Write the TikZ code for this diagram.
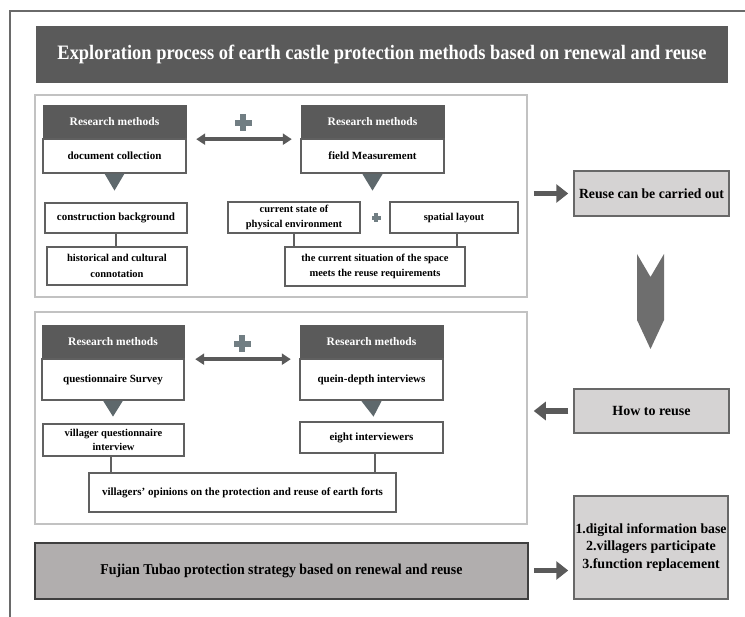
\documentclass[tikz,border=0pt]{standalone}
\usepackage{fontspec}
\usepackage{graphicx}
\setmainfont{Liberation Serif}
\usetikzlibrary{arrows.meta}
\definecolor{dk}{HTML}{5A5A5A}
\definecolor{bx}{HTML}{606060}
\definecolor{pn}{HTML}{C2C2C2}
\definecolor{frm}{HTML}{6A6A6A}
\definecolor{trif}{HTML}{5E686C}
\definecolor{plusc}{HTML}{717E83}
\definecolor{lg}{HTML}{D5D3D3}
\definecolor{sg}{HTML}{686868}
\definecolor{fj}{HTML}{B1AEAE}
\definecolor{fjb}{HTML}{3F3F3F}
\definecolor{chev}{HTML}{6E6E6E}
\newcommand\fitw[2]{\resizebox{#1}{\height}{#2}}
\begin{document}
\begin{tikzpicture}[x=1pt,y=-1pt,
  hdr/.style={fill=dk, draw=dk, text=white, font=\bfseries\fontsize{11.5}{13}\selectfont, minimum width=143pt, minimum height=34pt, inner sep=0pt},
  body/.style={draw=bx, line width=1.2pt, fill=white, font=\bfseries\fontsize{11}{13}\selectfont, align=center, inner sep=0pt},
  twoline/.style={font=\bfseries\fontsize{10.5}{15.5}\selectfont},
  panel/.style={draw=pn, line width=1.5pt},
  side/.style={fill=lg, draw=sg, line width=1.5pt, font=\bfseries\fontsize{14}{17.5}\selectfont, align=center, inner sep=0pt, minimum width=155pt},
  conn/.style={draw=bx, line width=1.2pt},
  tri/.style={fill=trif},
  plusf/.style={fill=plusc},
  dbl/.style={draw=dk, line width=3.5pt, {Triangle[width=11pt,length=9pt]}-{Triangle[width=11pt,length=9pt]}},
  fat/.style={draw=dk, line width=5.5pt, -{Triangle[width=18pt,length=12pt]}}
]
\useasboundingbox (0,0) rectangle (745,617);
% outer frame (top and left visible)
\coordinate (fA) at (745,11);
\coordinate (fB) at (10,11);
\coordinate (fC) at (10,617);
\draw[frm, line width=1.5pt] (fA) -- (fB) -- (fC);

% title
\node[fill=dk, minimum width=692pt, minimum height=57pt, inner sep=0pt, text=white] (title) at (382,54.5)
  {\fitw{649pt}{\bfseries\fontsize{20.5}{24}\selectfont Exploration process of earth castle protection methods based on renewal and reuse}};

% ---------- panel 1 ----------
\node[panel, minimum width=492pt, minimum height=202pt] (p1) at (281,196) {};
\node[hdr] (rm1h) at (114.5,122) {Research methods};
\node[body, minimum width=143pt, minimum height=34pt] (rm1b) at (114.5,156) {document collection};
\node[hdr] (rm2h) at (372.5,122) {Research methods};
\node[body, minimum width=143pt, minimum height=34pt] (rm2b) at (372.5,156) {field Measurement};
\draw[dbl, shorten <=10pt, shorten >=9pt] (rm1h.south east) -- (rm2h.south west);
\fill[plusf] (243,123) +(-8.5,-3) rectangle +(8.5,3);
\fill[plusf] (243,123) +(-3,-8.5) rectangle +(3,8.5);
\fill[tri] ([xshift=-10pt]rm1b.south) -- ([xshift=10pt]rm1b.south) -- ([yshift=-17pt]rm1b.south) -- cycle;
\fill[tri] ([xshift=-10pt,yshift=-0.6pt]rm2b.south) -- ([xshift=10pt,yshift=-0.6pt]rm2b.south) -- ([yshift=-17pt]rm2b.south) -- cycle;

\node[body, minimum width=142pt, minimum height=30pt] (cb) at (116,218) {construction background};
\node[body, twoline, minimum width=140pt, minimum height=38pt] (hc) at (117,266) {historical and cultural\\connotation};
\draw[conn] (cb.south) -- (cb.south |- hc.north);

\node[body, twoline, minimum width=132pt, minimum height=31pt] (cs) at (294,217.5) {current state of\\physical environment};
\node[body, minimum width=128pt, minimum height=31pt, font=\bfseries\fontsize{10.5}{12.5}\selectfont] (sl) at (454,217.5) {spatial layout};
\fill[plusf] (376,218) +(-4.5,-1.6) rectangle +(4.5,1.6);
\fill[plusf] (376,218) +(-1.6,-4.5) rectangle +(1.6,4.5);
\node[body, twoline, minimum width=180pt, minimum height=39pt] (cur) at (375,266.5) {the current situation of the space\\meets the reuse requirements};
\draw[conn] (cs.south) -- (cs.south |- cur.north);
\draw[conn] ([xshift=3pt]sl.south) -- ([xshift=3pt]sl.south |- cur.north);

% ---------- panel 2 ----------
\node[panel, minimum width=492pt, minimum height=212pt] (p2) at (281,418) {};
\node[hdr, minimum width=142pt] (rm3h) at (113,342) {Research methods};
\node[body, minimum width=142pt, minimum height=41pt] (rm3b) at (113,379.5) {questionnaire Survey};
\node[hdr] (rm4h) at (371.5,342) {Research methods};
\node[body, minimum width=143pt, minimum height=41pt] (rm4b) at (371.5,379.5) {quein-depth interviews};
\draw[dbl, shorten <=11pt, shorten >=9pt] (rm3h.south east) -- (rm4h.south west);
\fill[plusf] (242,344) +(-8.5,-3) rectangle +(8.5,3);
\fill[plusf] (242,344) +(-3,-8.5) rectangle +(3,8.5);
\fill[tri] ([xshift=-10pt]rm3b.south) -- ([xshift=10pt]rm3b.south) -- ([yshift=-16pt]rm3b.south) -- cycle;
\fill[tri] ([xshift=-10pt,yshift=-0.6pt]rm4b.south) -- ([xshift=10pt,yshift=-0.6pt]rm4b.south) -- ([xshift=2pt,yshift=-16pt]rm4b.south) -- cycle;

\node[body, minimum width=141pt, minimum height=32pt, font=\bfseries\fontsize{10.5}{14}\selectfont] (vq) at (113.5,440) {villager questionnaire\\interview};
\node[body, minimum width=143pt, minimum height=31pt] (ei) at (371.5,437.5) {eight interviewers};
\node[body, minimum width=307pt, minimum height=39pt] (vo) at (242.5,492.5) {villagers’ opinions on the protection and reuse of earth forts};
\draw[conn] ([xshift=-2.5pt]vq.south) -- ([xshift=-2.5pt]vq.south |- vo.north);
\draw[conn] ([xshift=3.5pt]ei.south) -- ([xshift=3.5pt]ei.south |- vo.north);

% ---------- right column ----------
\node[side, minimum height=45pt] (reuse) at (651.5,193.5) {\fitw{145pt}{Reuse can be carried out}};
\node[side, minimum height=44pt] (how) at (651.5,411) {How to reuse};
\node[side, minimum width=154pt, minimum height=103pt] (res) at (651,547.5)
  {\fitw{151pt}{1.digital information base}\\2.villagers participate\\3.function replacement};
\node[fill=fj, draw=fjb, line width=2pt, minimum width=493pt, minimum height=56pt, inner sep=0pt] (fuj) at (281.5,571)
  {\fitw{362pt}{\bfseries\fontsize{15}{18}\selectfont Fujian Tubao protection strategy based on renewal and reuse}};

\draw[fat, shorten <=6pt, shorten >=5pt] (reuse.west -| p1.east) -- (reuse.west);
\draw[fat, shorten <=5pt, shorten >=6pt] (how.west) -- (how.west -| p2.east);
\draw[fat, shorten <=5pt, shorten >=5pt] ([yshift=-23pt]res.west -| fuj.east) -- ([yshift=-23pt]res.west);

% chevron arrow from reuse to how
\fill[chev] (637,254) -- (650.5,277) -- (664,254) -- (664,320) -- (650.5,349) -- (637,320) -- cycle;
\end{tikzpicture}
\end{document}
